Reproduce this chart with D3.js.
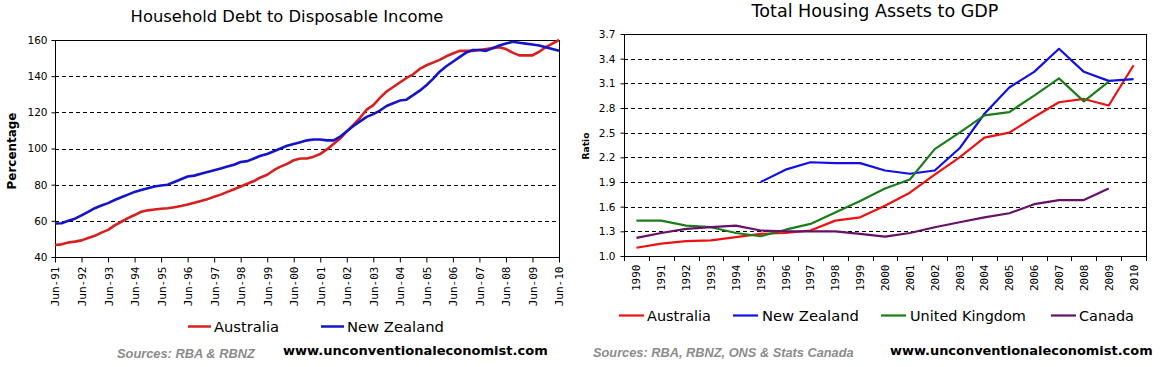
<!DOCTYPE html>
<html><head><meta charset="utf-8">
<script src="https://cdn.jsdelivr.net/npm/d3@7"></script>
<style>body{margin:0;background:#fff}svg{display:block}</style>
</head><body>
<svg id="c" width="1162" height="367"></svg>
<script>
// ---------- DATA: Household debt to disposable income (quarterly) ----------
const quarters = [
 "Jun-91","Sep-91","Dec-91",
 "Mar-92","Jun-92","Sep-92","Dec-92","Mar-93","Jun-93","Sep-93","Dec-93",
 "Mar-94","Jun-94","Sep-94","Dec-94","Mar-95","Jun-95","Sep-95","Dec-95",
 "Mar-96","Jun-96","Sep-96","Dec-96","Mar-97","Jun-97","Sep-97","Dec-97",
 "Mar-98","Jun-98","Sep-98","Dec-98","Mar-99","Jun-99","Sep-99","Dec-99",
 "Mar-00","Jun-00","Sep-00","Dec-00","Mar-01","Jun-01","Sep-01","Dec-01",
 "Mar-02","Jun-02","Sep-02","Dec-02","Mar-03","Jun-03","Sep-03","Dec-03",
 "Mar-04","Jun-04","Sep-04","Dec-04","Mar-05","Jun-05","Sep-05","Dec-05",
 "Mar-06","Jun-06","Sep-06","Dec-06","Mar-07","Jun-07","Sep-07","Dec-07",
 "Mar-08","Jun-08","Sep-08","Dec-08","Mar-09","Jun-09","Sep-09","Dec-09",
 "Mar-10","Jun-10"];
const debtTickLabels = ["Jun-91","Jun-92","Jun-93","Jun-94","Jun-95","Jun-96","Jun-97","Jun-98","Jun-99","Jun-00",
 "Jun-01","Jun-02","Jun-03","Jun-04","Jun-05","Jun-06","Jun-07","Jun-08","Jun-09","Jun-10"];
const debtYTicks = [40,60,80,100,120,140,160];
const australiaDebt = [
 46.6,47.0,48.0,
 48.5,49.2,50.5,51.7, 53.5,55.0,57.5,59.5,
 61.5,63.2,65.0,65.8, 66.3,66.7,67.0,67.5,
 68.2,69.0,70.0,71.0, 72.0,73.3,74.5,76.0,
 77.5,79.0,80.5,82.0, 84.0,85.5,88.0,90.0,
 91.5,93.5,94.5,94.5, 95.5,97.0,99.5,102.5,
 105.5,109.5,113.0,117.0, 121.5,124.0,128.0,131.5,
 134.0,136.5,139.0,141.0, 144.0,146.0,147.5,149.0,
 151.0,152.5,154.0,154.0, 154.0,154.5,155.0,155.5,
 156.0,155.0,153.0,151.5, 151.5,151.5,153.5,156.0,
 158.0,160.0];
const newZealandDebt = [
 58.5,58.7,60.0,
 61.2,63.0,65.0,67.0, 68.5,69.8,71.5,73.0,
 74.5,76.0,77.0,78.0, 79.0,79.5,80.0,81.5,
 83.0,84.5,85.0,86.0, 87.0,88.0,89.0,90.0,
 91.0,92.5,93.0,94.5, 96.0,97.0,98.5,100.0,
 101.5,102.5,103.5,104.5, 105.0,105.0,104.5,104.5,
 106.5,109.5,112.5,115.0, 117.5,119.0,121.0,123.5,
 125.0,126.5,127.0,129.5, 132.0,135.0,138.5,142.5,
 145.5,148.0,150.5,153.0, 154.5,154.5,154.0,155.5,
 157.0,158.0,159.0,158.5, 158.0,157.5,157.0,156.0,
 155.0,154.0];

// ---------- DATA: Total housing assets to GDP (annual) ----------
const years = ["1990","1991","1992","1993","1994","1995","1996","1997","1998","1999","2000",
 "2001","2002","2003","2004","2005","2006","2007","2008","2009","2010"];
const housingYTicks = [1.0,1.3,1.6,1.9,2.2,2.5,2.8,3.1,3.4,3.7];
const australiaHousing = [1.10,1.15,1.18,1.19,1.23,1.27,1.28,1.31,1.43,1.47,1.61,1.77,1.99,2.20,2.44,2.50,2.69,2.87,2.91,2.83,3.32];
const newZealandHousing = [null,null,null,null,null,1.90,2.05,2.14,2.13,2.13,2.04,2.00,2.04,2.31,2.73,3.05,3.24,3.52,3.24,3.13,3.15];
const ukHousing = [1.43,1.43,1.37,1.35,1.28,1.24,1.32,1.39,1.53,1.67,1.82,1.93,2.30,2.50,2.71,2.75,2.95,3.16,2.88,3.12,null];
const canadaHousing = [1.22,1.28,1.33,1.35,1.37,1.31,1.30,1.30,1.30,1.27,1.235,1.28,1.35,1.41,1.47,1.52,1.63,1.68,1.68,1.82,null];

// ---------- DRAW ----------
const svg = d3.select("#c");
const SANS = "'DejaVu Sans', Verdana, sans-serif";
const MONO = "'DejaVu Sans Mono', monospace";

function fit(sel, w){
  const cur = sel.node().getComputedTextLength();
  const fs = parseFloat(sel.attr("font-size"));
  if (cur > 0) sel.attr("font-size", fs * w / cur);
  return sel;
}
function gridAndFrame(g, y, ticks, x0, x1){
  g.selectAll("line.grid").data(ticks.slice(1, -1)).join("line")
    .attr("class","grid")
    .attr("x1", x0).attr("x2", x1)
    .attr("y1", d => Math.round(y(d)) + 0.5).attr("y2", d => Math.round(y(d)) + 0.5)
    .attr("stroke","#000").attr("stroke-width",1).attr("stroke-dasharray","4,3");
}

// ===== Left chart =====
const L = {l:55, r:559, t:40, b:257};
const xL = d3.scalePoint().domain(quarters).range([L.l, L.r]);
const yL = d3.scaleLinear().domain([40,160]).range([L.b, L.t]);
const gL = svg.append("g");

gridAndFrame(gL, yL, debtYTicks, L.l, L.r);
gL.append("rect").attr("x", L.l + 0.5).attr("y", L.t + 0.5)
  .attr("width", L.r - L.l).attr("height", L.b - L.t)
  .attr("fill","none").attr("stroke","#000");

const yAxL = gL.append("g").attr("transform", `translate(${L.l + 0.5},0)`)
  .call(d3.axisLeft(yL).tickValues(debtYTicks).tickSize(4).tickPadding(4).tickSizeOuter(0));
yAxL.select(".domain").remove();
yAxL.selectAll("text").attr("font-family", SANS).attr("font-size", 10.5).attr("fill","#000");

const xAxL = gL.append("g").attr("transform", `translate(0,${L.b + 0.5})`)
  .call(d3.axisBottom(xL).tickValues(debtTickLabels).tickSize(5).tickSizeOuter(0));
xAxL.select(".domain").remove();
xAxL.selectAll("text")
  .attr("font-family", MONO).attr("font-size", 11).attr("fill","#000")
  .attr("transform","rotate(-90)").attr("text-anchor","end")
  .attr("x", -9).attr("y", 0).attr("dy","0.36em");

const lineL = data => d3.line().x((d,i) => xL(quarters[i])).y(d => yL(d))(data);
gL.append("path").attr("d", lineL(australiaDebt)).attr("fill","none")
  .attr("stroke","#d91e1e").attr("stroke-width",2.6).attr("stroke-linejoin","round");
gL.append("path").attr("d", lineL(newZealandDebt)).attr("fill","none")
  .attr("stroke","#1414c8").attr("stroke-width",2.6).attr("stroke-linejoin","round");

fit(svg.append("text").attr("x", 287).attr("y", 22).attr("text-anchor","middle")
  .attr("font-family", SANS).attr("font-size", 14).attr("fill","#000")
  .text("Household Debt to Disposable Income"), 313);
fit(svg.append("text").attr("transform","translate(16,151) rotate(-90)").attr("text-anchor","middle")
  .attr("font-family", SANS).attr("font-weight","bold").attr("font-size", 12).attr("fill","#000")
  .text("Percentage"), 77);

// legend left
const legL = [["Australia","#d91e1e",188,214,65],["New Zealand","#1414c8",321,347,97]];
legL.forEach(([t,c,lx,tx,w]) => {
  svg.append("line").attr("x1",lx).attr("x2",lx+23).attr("y1",326.5).attr("y2",326.5)
    .attr("stroke",c).attr("stroke-width",2.5);
  fit(svg.append("text").attr("x",tx).attr("y",331.5).attr("font-family",SANS)
    .attr("font-size",13).attr("fill","#000").text(t), w);
});
fit(svg.append("text").attr("x",117).attr("y",357.5).attr("font-family","'Liberation Sans', Arial, sans-serif")
  .attr("font-style","italic").attr("font-weight","bold").attr("font-size",12.5).attr("fill","#8c8c8c")
  .text("Sources: RBA & RBNZ"), 138);
fit(svg.append("text").attr("x",283).attr("y",355).attr("font-family",SANS)
  .attr("font-weight","bold").attr("font-size",12.5).attr("fill","#000")
  .text("www.unconventionaleconomist.com"), 265);

// ===== Right chart =====
const R = {l:624, r:1146, t:34, b:256};
const xR = d3.scaleBand().domain(years).range([R.l, R.r]).padding(0);
const yR = d3.scaleLinear().domain([1.0,3.7]).range([R.b, R.t]);
const gR = svg.append("g");

gridAndFrame(gR, yR, housingYTicks, R.l, R.r);
gR.append("rect").attr("x", R.l + 0.5).attr("y", R.t + 0.5)
  .attr("width", R.r - R.l).attr("height", R.b - R.t)
  .attr("fill","none").attr("stroke","#000");

const yAxR = gR.append("g").attr("transform", `translate(${R.l + 0.5},0)`)
  .call(d3.axisLeft(yR).tickValues(housingYTicks).tickFormat(d3.format(".1f"))
    .tickSize(4).tickPadding(5).tickSizeOuter(0));
yAxR.select(".domain").remove();
yAxR.selectAll("text").attr("font-family", SANS).attr("font-size", 10.5).attr("fill","#000");

const xAxR = gR.append("g").attr("transform", `translate(0,${R.b + 0.5})`)
  .call(d3.axisBottom(xR).tickSize(0).tickSizeOuter(0));
xAxR.select(".domain").remove();
xAxR.selectAll("text")
  .attr("font-family", MONO).attr("font-size", 11).attr("fill","#000")
  .attr("transform","rotate(-90)").attr("text-anchor","end")
  .attr("x", -8).attr("y", 0).attr("dy","0.36em");
// ticks on category boundaries
gR.selectAll("line.xt").data(years.concat(["end"])).join("line").attr("class","xt")
  .attr("x1", d => d === "end" ? R.r + 0.5 : Math.round(xR(d)) + 0.5)
  .attr("x2", d => d === "end" ? R.r + 0.5 : Math.round(xR(d)) + 0.5)
  .attr("y1", R.b).attr("y2", R.b + 5).attr("stroke","#000");

const lineR = d3.line().defined(d => d != null)
  .x((d,i) => xR(years[i]) + xR.bandwidth()/2).y(d => yR(d));
const seriesR = [
  ["Australia", australiaHousing, "#ee1111"],
  ["New Zealand", newZealandHousing, "#1010e6"],
  ["United Kingdom", ukHousing, "#1a7d1a"],
  ["Canada", canadaHousing, "#661166"]];
seriesR.forEach(([n,d,c]) => {
  gR.append("path").attr("d", lineR(d)).attr("fill","none")
    .attr("stroke", c).attr("stroke-width", 2.2).attr("stroke-linejoin","round");
});

fit(svg.append("text").attr("x", 875).attr("y", 17).attr("text-anchor","middle")
  .attr("font-family", SANS).attr("font-size", 15).attr("fill","#000")
  .text("Total Housing Assets to GDP"), 247);
fit(svg.append("text").attr("transform","translate(589,146) rotate(-90)").attr("text-anchor","middle")
  .attr("font-family", SANS).attr("font-weight","bold").attr("font-size", 10).attr("fill","#000")
  .text("Ratio"), 27);

const legR = [[0,619,647,64],[1,733,762,97],[2,881,910,116],[3,1051,1079,55]];
legR.forEach(([i,lx,tx,w]) => {
  const [n,,c] = seriesR[i];
  svg.append("line").attr("x1",lx).attr("x2",lx+25).attr("y1",315.5).attr("y2",315.5)
    .attr("stroke",c).attr("stroke-width",2.2);
  fit(svg.append("text").attr("x",tx).attr("y",320.5).attr("font-family",SANS)
    .attr("font-size",13).attr("fill","#000").text(n), w);
});
fit(svg.append("text").attr("x",593).attr("y",357).attr("font-family","'Liberation Sans', Arial, sans-serif")
  .attr("font-style","italic").attr("font-weight","bold").attr("font-size",12.5).attr("fill","#8c8c8c")
  .text("Sources: RBA, RBNZ, ONS & Stats Canada"), 261);
fit(svg.append("text").attr("x",890).attr("y",354.5).attr("font-family",SANS)
  .attr("font-weight","bold").attr("font-size",12.5).attr("fill","#000")
  .text("www.unconventionaleconomist.com"), 263);
</script>
</body></html>
